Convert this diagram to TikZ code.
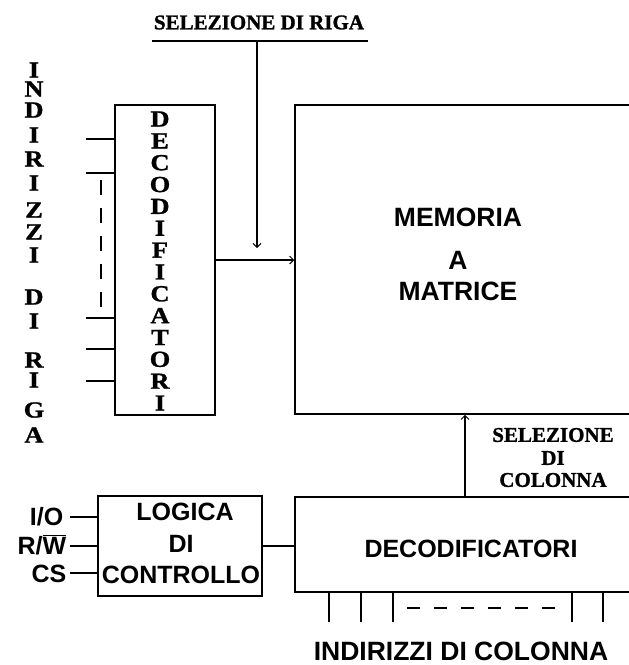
\documentclass[tikz,border=0pt]{standalone}
\usepackage{fontspec}
\setmainfont{Liberation Serif}
\newfontfamily\sansf{Liberation Sans}
\newfontfamily\heavyserif{Liberation Serif Bold}[FakeBold=1.2]
\newfontfamily\wideserif{Liberation Serif Bold}[FakeBold=1.2,FakeStretch=1.15]
\usetikzlibrary{arrows.meta}
\begin{document}
\begin{tikzpicture}[x=1pt,y=-1pt,
  line width=1.5pt,
  box/.style={draw,rectangle,inner sep=0pt,line width=1.5pt},
  serifl/.style={inner sep=0pt,font=\wideserif\fontsize{23}{23}\selectfont},
  selfont/.style={inner sep=0pt,font=\heavyserif\fontsize{21}{21}\selectfont},
  sansl/.style={inner sep=0pt,font=\sansf\bfseries\fontsize{25}{25}\selectfont},
  bigsans/.style={inner sep=0pt,font=\sansf\bfseries\fontsize{26.5}{26.5}\selectfont},
  tip/.style={-{Straight Barb[length=4pt,width=8pt,line width=1pt]}},
  wire/.style={line width=1.5pt}]
\clip (0,0) rectangle (629,665);
\fill[white] (0,0) rectangle (629,665);

% boxes
\node[box,minimum width=100pt,minimum height=310pt] (rdec) at (165,260) {};
\node[box,minimum width=350pt,minimum height=309pt] (mem) at (470,259.5) {};
\node[box,minimum width=164pt,minimum height=100pt] (ctrl) at (180,546) {};
\node[box,minimum width=350pt,minimum height=95pt] (cdec) at (470,544.5) {};

% memory text
\node[bigsans] (m1) at (458,217) {MEMORIA};
\node[bigsans] (m2) at (458,260) {A};
\node[bigsans] (m3) at (458,291) {MATRICE};

% column decoder text
\node[sansl] (cd) at (471,549) {DECODIFICATORI};
\node[bigsans] (ic) at (461,651) {INDIRIZZI DI COLONNA};

% control text
\node[sansl] (c1) at (185,512) {LOGICA};
\node[sansl] (c2) at (181,544) {DI};
\node[sansl] (c3) at (181,575) {CONTROLLO};

% row decoder vertical letters
\foreach \ch [count=\i from 0] in {D,E,C,O,D,I,F,I,C,A,T,O,R,I}
  \node[serifl] (dl\i) at (160,{119+21.85*\i}) {\ch};

% row address vertical letters
\foreach \ch/\yy [count=\i] in {I/70,N/89,D/110,I/135,R/159,I/183,Z/210,Z/232,I/255,D/297,I/321,R/360,I/380,G/410,A/435}
  \node[serifl] (rl\i) at (34,\yy) {\ch};

% selezione di riga
\node[selfont] (sr) at (259,22.5) {SELEZIONE DI RIGA};
\coordinate (ul1) at (152,41);
\coordinate (ul2) at (368,41);
\coordinate (vr) at (257,41);
\coordinate (vrend) at (257,248);
\draw[wire] (ul1) -- (ul2);
\draw[wire,tip] (vr) -- (vrend);

% row decoder to memory
\draw[wire,tip] (rdec.east) -- (rdec.east -| mem.west);

% row address stubs
\foreach \yy [count=\i] in {139,173,318,349,381}{
  \coordinate (ra\i) at (86,\yy);
  \draw[wire] (ra\i) -- (ra\i -| rdec.west);
}
\coordinate (rd1) at (101,180);
\coordinate (rd2) at (101,308);
\draw[wire,dash pattern=on 15pt off 13pt] (rd1) -- (rd2);

% selezione di colonna
\node[selfont] (sc1) at (553,435) {SELEZIONE};
\node[selfont] (sc2) at (553,458) {DI};
\node[selfont] (sc3) at (553,480) {COLONNA};
\coordinate (colx) at (465,0);
\draw[wire,tip] (cdec.north -| colx) -- (mem.south -| colx);

% control to column decoder
\draw[wire] (ctrl.east) -- (ctrl.east -| cdec.west);

% control inputs
\node[sansl,anchor=base east] (io) at (64,525) {I/O};
\node[sansl,anchor=base east] (rw) at (67,554) {R/$\overline{\hbox{W}}$};
\node[sansl,anchor=base east] (cs) at (67,582) {CS};
\coordinate (io0) at (70,517);
\coordinate (rw0) at (70,546);
\coordinate (cs0) at (70,573);
\draw[wire] (io0) -- (io0 -| ctrl.west);
\draw[wire] (rw0) -- (rw0 -| ctrl.west);
\draw[wire] (cs0) -- (cs0 -| ctrl.west);

% column address stubs
\foreach \xx [count=\i] in {329,361,393,572,603}{
  \coordinate (ca\i) at (\xx,622);
  \draw[wire] (ca\i |- cdec.south) -- (ca\i);
}
\coordinate (cdl1) at (407,608);
\coordinate (cdl2) at (562,608);
\draw[wire,dash pattern=on 13pt off 14pt] (cdl1) -- (cdl2);
\end{tikzpicture}
\end{document}
